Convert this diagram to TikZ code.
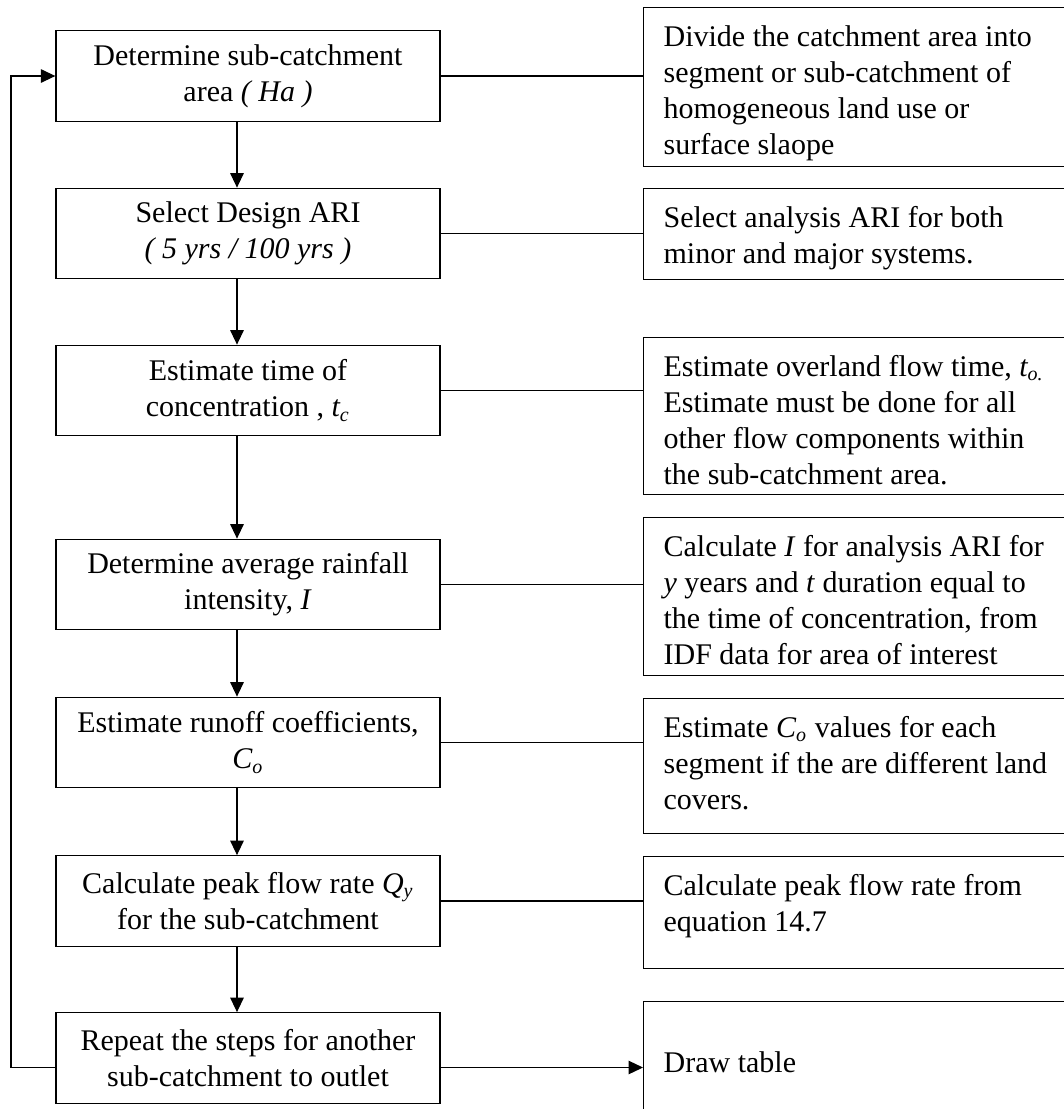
\documentclass[tikz,border=0pt]{standalone}
\usepackage{fontspec}
\setmainfont{Liberation Serif}
\usepackage{tikz}
\usetikzlibrary{
	arrows.meta,
	calc,
	positioning
}

\newcommand{\notetext}[2]{\parbox[c][#1][t]{165pt}{\raggedright\strut #2}}

\begin{document}
\begin{tikzpicture}[x=0.4pt, y=-0.4pt, line width=0.5pt,
	font=\fontsize{12pt}{14.4pt}\selectfont,
	stepbox/.style={draw, minimum width=153.6pt, minimum height=36.2pt, align=center, inner sep=2pt},
	notebox/.style={draw, anchor=north west, inner xsep=8pt, inner ysep=5.4pt},
	>={Triangle[length=5.8pt, width=5.4pt]}]
		\useasboundingbox (0,0) rectangle (1064,1109);
		% steps of the procedure
		\node[stepbox] (area) at (248,76) {Determine sub-catchment\\area \textit{( Ha )}};
		\node[stepbox] (ari) at (248,233.5) {Select Design ARI\\\textit{( 5 yrs / 100 yrs )}};
		\node[stepbox] (tc) at (248,390.5) {Estimate time of\\concentration , \textit{t\textsubscript{c}}};
		\node[stepbox] (rain) at (248,584.5) {Determine average rainfall\\intensity, \textit{I}};
		\node[stepbox] (coef) at (248,742.5) {Estimate runoff coefficients,\\\textit{C\textsubscript{o}}};
		\node[stepbox] (peak) at (248,901) {Calculate peak flow rate \textit{Q\textsubscript{y}}\\for the sub-catchment};
		\node[stepbox] (repeat) at (248,1058) {Repeat the steps for another\\sub-catchment to outlet};
		% notes
		\node[notebox] (divide) at (643,7) {\notetext{52.8pt}{Divide the catchment area into\\segment or sub-catchment of\\homogeneous land use or\\surface slaope}};
		\node[notebox] (analysis) at (643,188) {\notetext{25.6pt}{Select analysis ARI for both\\minor and major systems.}};
		\node[notebox] (overland) at (643,337) {\notetext{52pt}{Estimate overland flow time, \textit{t\textsubscript{o.}}\\Estimate must be done for all\\other flow components within\\the sub-catchment area.}};
		\node[notebox] (idf) at (643,517) {\notetext{52.4pt}{Calculate \textit{I} for analysis ARI for\\\textit{y} years and \textit{t} duration equal to\\the time of concentration, from\\IDF data for area of interest}};
		\node[notebox] (covers) at (643,698) {\notetext{43.2pt}{Estimate \textit{C\textsubscript{o}} values for each\\segment if the are different land\\covers.}};
		\node[notebox] (equation) at (643,856) {\notetext{34pt}{Calculate peak flow rate from\\equation 14.7}};
		\node[notebox, inner ysep=18.3pt] (table) at (643,1001) {\notetext{12pt}{Draw table}};
		\coordinate (loop) at (11,0);
		% connectors
		\foreach \a/\b in {area/ari, ari/tc, tc/rain, rain/coef, coef/peak, peak/repeat}
		\draw[->] ([xshift=-4.4pt]\a.south) -- ([xshift=-4.4pt]\b.north);
		\foreach \a/\b in {area/divide, ari/analysis, tc/overland, rain/idf, coef/covers, peak/equation}
		\draw (\a.east) -- (\a.east -| \b.west);
		\draw[->] ([yshift=-3.8pt]repeat.east) -- ([yshift=-3.8pt]repeat.east -| table.west);
		\draw[->] ([yshift=-3.8pt]repeat.west) -| (loop |- area.west) -- (area.west);
	\end{tikzpicture}
\end{document}
